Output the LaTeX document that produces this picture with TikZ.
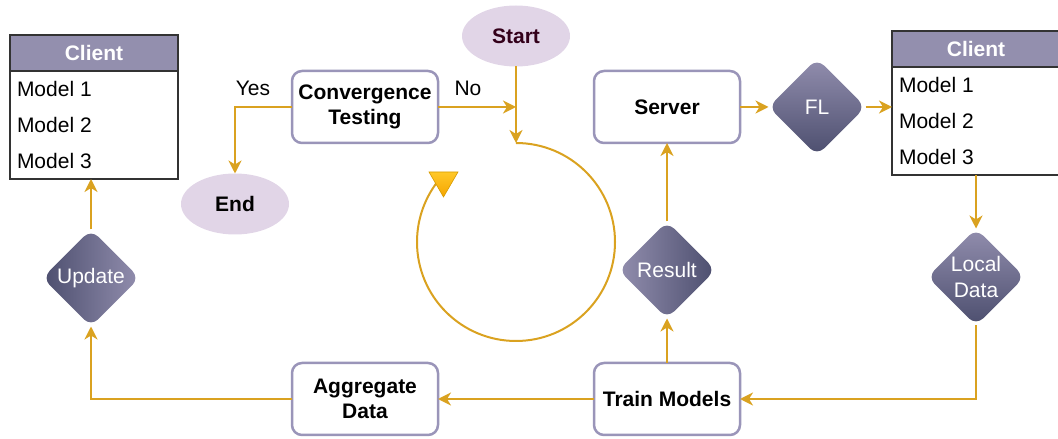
\documentclass[tikz,border=0pt]{standalone}
\usepackage{fontspec}
\setmainfont{Liberation Sans}
\usetikzlibrary{shapes.geometric,arrows.meta,calc}
\definecolor{flow}{RGB}{218,162,32}
\definecolor{boxline}{RGB}{154,149,185}
\definecolor{hdr}{RGB}{147,143,174}
\definecolor{dlight}{RGB}{146,142,174}
\definecolor{ddark}{RGB}{76,78,110}
\definecolor{ellfill}{RGB}{225,213,231}
\definecolor{maroon}{RGB}{51,0,26}
\definecolor{triA}{RGB}{255,200,40}
\definecolor{triB}{RGB}{245,165,0}
\definecolor{triS}{RGB}{215,155,0}
\begin{document}
\begin{tikzpicture}[x=1pt,y=1pt,
  font=\fontsize{21}{25}\selectfont,
  every node/.style={inner sep=0pt, outer sep=0pt},
  procbox/.style={draw=boxline, line width=2.5pt, rounded corners=10pt, fill=white,
    minimum width=146pt, minimum height=72pt, align=center, font=\fontsize{21}{25}\selectfont\bfseries},
  term/.style={ellipse, fill=ellfill, minimum width=108pt, minimum height=61pt, font=\fontsize{21}{25}\selectfont\bfseries},
  dia/.style={diamond, aspect=1, minimum width=97pt, minimum height=97pt, rounded corners=10pt},
  ditext/.style={text=white, align=center, font=\fontsize{21}{26}\selectfont},
  chead/.style={draw=black!80, line width=2pt, fill=hdr, minimum width=168pt, minimum height=36pt, text=white, font=\fontsize{21}{25}\selectfont\bfseries},
  cbody/.style={draw=black!80, line width=2pt, fill=white, minimum width=168pt, minimum height=108pt},
  row/.style={anchor=west},
  conn/.style={draw=flow, line width=2pt, -{Stealth[length=13pt,width=13pt,inset=4pt]}},
  lbl/.style={}
]
\clip (0,0) rectangle (1058,439);

% left client
\node[cbody] (clLbody) at (94,314) {};
\node[chead] (clLhead) at (94,386) {Client};
\node[row] (clL1) at (17,350) {Model 1};
\node[row] (clL2) at (17,314) {Model 2};
\node[row] (clL3) at (17,278) {Model 3};

% right client
\node[cbody] (clRbody) at (976,318) {};
\node[chead] (clRhead) at (976,390) {Client};
\node[row] (clR1) at (899,354) {Model 1};
\node[row] (clR2) at (899,318) {Model 2};
\node[row] (clR3) at (899,282) {Model 3};

% process boxes
\node[procbox] (conv) at (365,332) {Convergence\\Testing};
\node[procbox] (server) at (667,332) {Server};
\node[procbox] (train) at (667,40) {Train Models};
\node[procbox] (aggr) at (365,40) {Aggregate\\Data};

% terminators
\node[term, text=maroon] (start) at (516,403) {Start};
\node[term] (end) at (235,235) {End};

% diamonds
\node[dia, top color=dlight, bottom color=ddark, label={[ditext]center:FL}] (fl) at (817,332) {};
\node[dia, top color=dlight, bottom color=ddark, label={[ditext]center:Local\\Data}] (local) at (976,162) {};
\node[dia, left color=dlight, right color=ddark, label={[ditext]center:Result}] (result) at (667,169) {};
\node[dia, left color=ddark, right color=dlight, label={[ditext]center:Update}] (update) at (91,161) {};

% labels
\node[lbl] (yes) at (253,351) {Yes};
\node[lbl] (no) at (468,351) {No};

% circle
\coordinate (cc) at (516,197);
\coordinate (ctop) at (516,296);
\draw[flow, line width=2pt] (ctop) arc[start angle=90, end angle=-220, radius=99pt];
\draw[triS, line width=0.6pt, top color=triA, bottom color=triB] (429,267) -- (458,267) -- (443.5,242) -- cycle;

% connectors
\draw[conn] (conv.west) -| (end.north);
\draw[conn] (conv.east) -- (conv.east -| start.south);
\draw[conn] (start.south) -- (ctop);
\draw[conn] (server.east) -- (fl.west);
\draw[conn] (fl.east) -- (fl.east -| clRbody.west);
\draw[conn] (clRbody.south) -- (local.north);
\draw[conn] (local.south) |- (train.east);
\draw[conn] (train.north) -- (result.south);
\draw[conn] (result.north) -- (server.south);
\draw[conn] (train.west) -- (aggr.east);
\draw[conn] (aggr.west) -| (update.south);
\draw[conn] (update.north) -- (update.north |- clLbody.south);
\end{tikzpicture}
\end{document}
